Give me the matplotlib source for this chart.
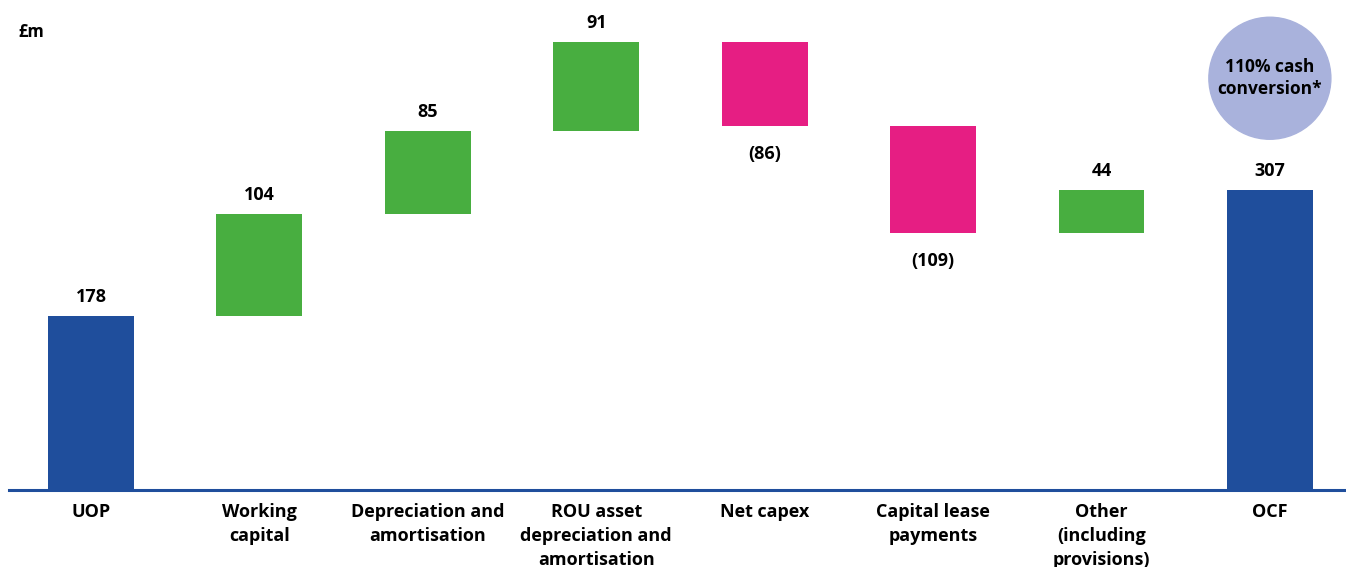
import numpy as np
import matplotlib.pyplot as plt
from matplotlib.patches import Ellipse

plt.rcParams['font.family'] = ['Open Sans', 'DejaVu Sans']

categories = ["UOP", "Working\ncapital", "Depreciation and\namortisation",
              "ROU asset\ndepreciation and\namortisation", "Net capex",
              "Capital lease\npayments", "Other\n(including\nprovisions)", "OCF"]
changes = [178, 104, 85, 91, -86, -109, 44, 307]
is_total = [True, False, False, False, False, False, False, True]
value_labels = ["178", "104", "85", "91", "(86)", "(109)", "44", "307"]

blue = "#1f4e9c"
green = "#48ae40"
pink = "#e61e83"
circle_col = "#a9b2dc"

# waterfall bottoms
bottoms = []
heights = []
running = 0
for val, tot in zip(changes, is_total):
    if tot:
        bottoms.append(0)
        heights.append(val)
        running = val
    else:
        if val >= 0:
            bottoms.append(running)
        else:
            bottoms.append(running + val)
        heights.append(abs(val))
        running += val

colors = []
for val, tot in zip(changes, is_total):
    if tot:
        colors.append(blue)
    elif val >= 0:
        colors.append(green)
    else:
        colors.append(pink)

fig = plt.figure(figsize=(13.46, 5.67), dpi=100)
ax = fig.add_axes([0, 0, 1, 1])
x = np.arange(len(categories))
ax.bar(x, heights, bottom=bottoms, width=0.51, color=colors)

ax.set_xlim(-0.540, 7.452)
ax.set_ylim(-78.7, 501)
ax.axis("off")

ax.axhline(0, xmin=9 / 1346, xmax=1, color=blue, linewidth=2.2)

for i in range(len(categories)):
    top = bottoms[i] + heights[i]
    if changes[i] >= 0:
        ax.annotate(value_labels[i], (x[i], top), xytext=(0, 19), textcoords="offset pixels",
                    ha="center", va="center", fontsize=13, fontweight="bold")
    else:
        ax.annotate(value_labels[i], (x[i], bottoms[i]), xytext=(0, -28), textcoords="offset pixels",
                    ha="center", va="center", fontsize=13, fontweight="bold")
    ax.annotate(categories[i], (x[i], 0), xytext=(0, -13), textcoords="offset pixels",
                ha="center", va="top", fontsize=13, fontweight="bold", linespacing=1.42)

ax.text(0.014, 0.944, "£m", transform=ax.transAxes, fontsize=12, fontweight="bold",
        ha="left", va="center")

circle = Ellipse((7, 421), width=122 / 168.4, height=122 / 0.978, color=circle_col, zorder=1)
ax.add_patch(circle)
ax.text(7, 421, "110% cash\nconversion*", ha="center", va="center", fontsize=12.5,
        fontweight="bold", linespacing=1.25, zorder=2)

fig.savefig("out.png", dpi=100)
